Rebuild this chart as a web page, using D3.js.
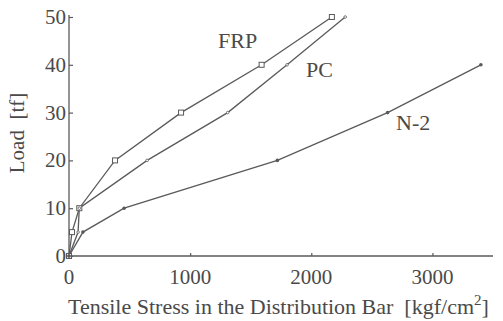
<!DOCTYPE html>
<html>
<head>
<meta charset="utf-8" />
<title>load vs stress</title>
<script src="https://cdn.jsdelivr.net/npm/d3@7"></script>
<style>
  body { margin: 0; background: #fff; }
  text { font-family: "Liberation Serif", "Times New Roman", serif; fill: #4a4a4a; }
</style>
</head>
<body>
<svg width="503" height="321"></svg>
<script>
// data: stress [kgf/cm2] vs load [tf]
var frpStress = [0, 25, 85, 380, 925, 1590, 2170];
var frpLoad   = [0, 5, 10, 20, 30, 40, 50];
var pcStress  = [0, 75, 85, 645, 1310, 1800, 2280];
var pcLoad    = [0, 5, 10, 20, 30, 40, 50];
var n2Stress  = [0, 115, 455, 1720, 2630, 3400];
var n2Load    = [0, 5, 10, 20, 30, 40];
var xTicks = [0, 1000, 2000, 3000];
var yTicks = [0, 10, 20, 30, 40, 50];

var svg = d3.select("svg");
var ink = "#5a5a5a";

var x = d3.scaleLinear().domain([0, 3500]).range([69, 493]);
var y = d3.scaleLinear().domain([0, 50]).range([256, 17]);

// axes
var xAxis = svg.append("g").attr("transform", "translate(0," + y(0) + ")")
  .call(d3.axisTop(x).tickValues(xTicks).tickSize(3).tickFormat(""));
var yAxis = svg.append("g").attr("transform", "translate(" + x(0) + ",0)")
  .call(d3.axisRight(y).tickValues(yTicks).tickSize(4).tickFormat(""));
svg.selectAll(".domain").attr("stroke", ink).attr("stroke-width", 1.3);
svg.selectAll(".tick line").attr("stroke", ink).attr("stroke-width", 1.2);
xAxis.select(".domain").attr("d", "M" + x(0) + ",0H" + x(3500));
yAxis.select(".domain").attr("d", "M0," + y(0) + "V" + (y(50) - 2));

// tick labels
svg.selectAll(".xl").data(xTicks).enter().append("text")
  .attr("x", d => x(d)).attr("y", 284)
  .attr("text-anchor", "middle").attr("font-size", 21)
  .text(d => d);
svg.selectAll(".yl").data(yTicks).enter().append("text")
  .attr("x", 66).attr("y", d => y(d) + 7)
  .attr("text-anchor", "end").attr("font-size", 21)
  .text(d => d);

// axis titles
var xt = svg.append("text").attr("x", 68).attr("y", 314).attr("font-size", 22);
xt.append("tspan").text("Tensile Stress in the Distribution Bar\u00a0\u00a0[kgf/cm");
xt.append("tspan").attr("dy", -9).attr("font-size", 15).text("2");
xt.append("tspan").attr("dy", 9).text("]");

svg.append("text")
  .attr("transform", "translate(24,133) rotate(-90)")
  .attr("text-anchor", "middle").attr("font-size", 21)
  .text("Load\u00a0\u00a0[tf]");

var line = d3.line().x(d => x(d[0])).y(d => y(d[1]));
function draw(xs, ys) {
  var pts = xs.map((v, i) => [v, ys[i]]);
  svg.append("path").datum(pts)
    .attr("d", line).attr("fill", "none")
    .attr("stroke", ink).attr("stroke-width", 1.3);
  return pts;
}

var frp = draw(frpStress, frpLoad);
var pc = draw(pcStress, pcLoad);
var n2 = draw(n2Stress, n2Load);

svg.selectAll(".frp").data(frp).enter().append("rect")
  .attr("x", d => x(d[0]) - 2.5).attr("y", d => y(d[1]) - 2.5)
  .attr("width", 5).attr("height", 5)
  .attr("fill", "#fff").attr("stroke", ink).attr("stroke-width", 1);
svg.selectAll(".pc").data(pc).enter().append("circle")
  .attr("cx", d => x(d[0])).attr("cy", d => y(d[1])).attr("r", 1.3)
  .attr("fill", "#fff").attr("stroke", ink).attr("stroke-width", 0.8);
svg.selectAll(".n2").data(n2).enter().append("circle")
  .attr("cx", d => x(d[0])).attr("cy", d => y(d[1])).attr("r", 1.8)
  .attr("fill", ink);

// series labels
svg.append("text").attr("x", 218).attr("y", 48).attr("font-size", 22).text("FRP");
svg.append("text").attr("x", 306).attr("y", 77).attr("font-size", 22).text("PC");
svg.append("text").attr("x", 396).attr("y", 130).attr("font-size", 22).text("N-2");
</script>
</body>
</html>
